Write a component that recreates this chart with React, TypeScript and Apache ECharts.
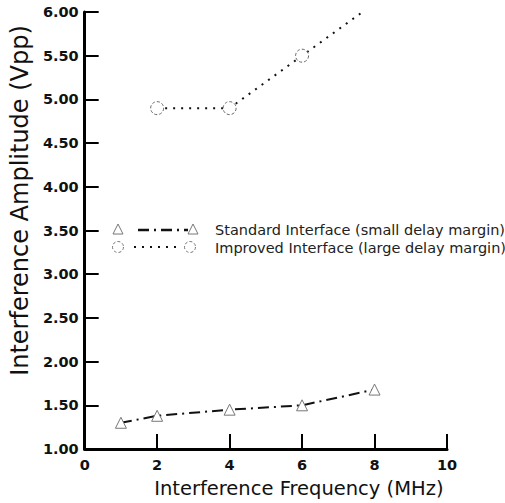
import React, { useEffect, useRef } from "react";
import * as echarts from "echarts";

const standardData: [number, number][] = [
  [1, 1.3],
  [2, 1.38],
  [4, 1.45],
  [6, 1.5],
  [8, 1.68],
];
const improvedData: [number, number][] = [
  [2, 4.9],
  [4, 4.9],
  [6, 5.5],
  [8, 6.1],
];
const legendLabels = [
  "Standard Interface (small delay margin)",
  "Improved Interface (large delay margin)",
];
const xTitle = "Interference Frequency (MHz)";
const yTitle = "Interference Amplitude (Vpp)";

export default function App() {
  const ref = useRef<HTMLDivElement>(null);
  useEffect(() => {
    if (!ref.current) return;
    const chart = echarts.init(ref.current, null, { renderer: "svg" });
    const lab = {
      fontFamily: "DejaVu Sans",
      fontWeight: "bold" as const,
      fontSize: 14.5,
      color: "#111",
    };
    chart.setOption({
      animation: false,
      backgroundColor: "#fff",
      grid: { left: 82, right: 58, top: 12, bottom: 53 },
      xAxis: {
        type: "value",
        min: 0,
        max: 10,
        interval: 2,
        name: xTitle,
        nameLocation: "middle",
        nameGap: 29,
        nameTextStyle: {
          fontFamily: "DejaVu Sans",
          fontSize: 19.5,
          color: "#111",
          padding: [0, 0, 0, 66],
        },
        axisLine: { lineStyle: { color: "#000", width: 3 } },
        axisTick: { inside: true, length: 15, lineStyle: { color: "#000", width: 2 } },
        axisLabel: { ...lab, margin: 8 },
        splitLine: { show: false },
      },
      yAxis: {
        type: "value",
        min: 1,
        max: 6,
        interval: 0.5,
        name: yTitle,
        nameLocation: "middle",
        nameGap: 52,
        nameTextStyle: {
          fontFamily: "DejaVu Sans",
          fontSize: 24,
          color: "#111",
          padding: [0, 0, 0, 60],
        },
        axisLine: { show: true, lineStyle: { color: "#000", width: 3 } },
        axisTick: { inside: true, length: 14, lineStyle: { color: "#000", width: 2 } },
        axisLabel: { ...lab, margin: 6, formatter: (v: number) => v.toFixed(2) },
        splitLine: { show: false },
      },
      series: [
        {
          name: legendLabels[0],
          type: "line",
          data: standardData,
          clip: true,
          symbol: "triangle",
          symbolSize: 11,
          showAllSymbol: true,
          lineStyle: { color: "#111", width: 2, type: [11, 5, 2, 5] },
          itemStyle: { color: "#fff", borderColor: "#777", borderWidth: 1 },
          z: 3,
        },
        {
          name: legendLabels[1],
          type: "line",
          data: improvedData,
          clip: true,
          symbol: "circle",
          symbolSize: 13,
          showAllSymbol: true,
          lineStyle: { color: "#111", width: 2, type: [2, 6] },
          itemStyle: {
            color: "#fff",
            borderColor: "#666",
            borderWidth: 1,
            borderType: [3, 2],
          },
          z: 3,
        },
      ],
      graphic: [
        {
          type: "polygon",
          shape: { points: [[118, 224], [113, 234], [123, 234]] },
          style: { fill: "none", stroke: "#777", lineWidth: 1 },
        },
        {
          type: "line",
          shape: { x1: 138, y1: 230, x2: 188, y2: 230 },
          style: { stroke: "#111", lineWidth: 2.5, lineDash: [11, 5, 2, 5] },
        },
        {
          type: "polygon",
          shape: { points: [[193, 224], [188, 234], [198, 234]] },
          style: { fill: "none", stroke: "#777", lineWidth: 1 },
        },
        {
          type: "text",
          x: 215,
          y: 230,
          style: {
            text: legendLabels[0],
            fontFamily: "DejaVu Sans",
            fontSize: 14.5,
            fill: "#222",
            verticalAlign: "middle",
          },
        },
        {
          type: "circle",
          shape: { cx: 118, cy: 247, r: 5.5 },
          style: { fill: "none", stroke: "#777", lineWidth: 1, lineDash: [3, 2] },
        },
        {
          type: "line",
          shape: { x1: 134, y1: 247, x2: 180, y2: 247 },
          style: { stroke: "#111", lineWidth: 2, lineDash: [2, 6] },
        },
        {
          type: "circle",
          shape: { cx: 190, cy: 247, r: 5.5 },
          style: { fill: "none", stroke: "#777", lineWidth: 1, lineDash: [3, 2] },
        },
        {
          type: "text",
          x: 215,
          y: 248,
          style: {
            text: legendLabels[1],
            fontFamily: "DejaVu Sans",
            fontSize: 14.5,
            fill: "#222",
            verticalAlign: "middle",
          },
        },
      ],
    });
    return () => chart.dispose();
  }, []);
  return <div ref={ref} style={{ width: 505, height: 503, position: "absolute", left: 0, top: 0 }} />;
}
